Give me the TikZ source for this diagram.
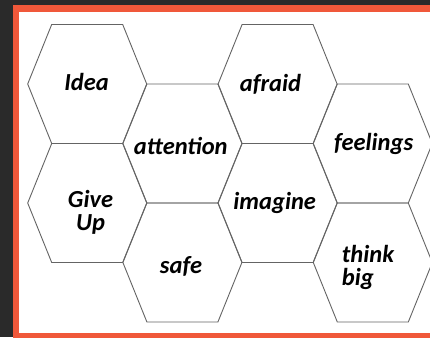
\documentclass[tikz,border=0pt]{standalone}
\usepackage{fontspec}
\setmainfont{Carlito}
\usepackage{xcolor}
\definecolor{slate}{RGB}{42,42,42}
\definecolor{frameorange}{RGB}{240,88,58}
\definecolor{hexgray}{RGB}{100,100,100}
\tikzset{hexcell/.style={draw=hexgray, line width=0.9pt, line join=miter},
wordnode/.style={font=\fontsize{24.5}{23.5}\selectfont\bfseries\itshape, inner sep=0pt}}

\begin{document}
\begin{tikzpicture}[x=1pt, y=-1pt]
        \useasboundingbox (0, 0) rectangle (430, 337);
        \clip (0, 0) rectangle (430, 337);
        % Frame
        \fill[slate] (0, 0) rectangle (430, 337);
        \fill[frameorange] (13, 5) rectangle (440, 345);
        \fill[white] (19, 12) rectangle (440, 333.3);
        % Hexagons
        \foreach \cx/\cy in {
            87.2/84, 87.2/203,
            182.4/143.5, 182.4/262.5,
            277.6/84, 277.6/203,
            372.8/143.5, 372.8/262.5} {
            \draw[hexcell] (\cx-59.5, \cy) -- (\cx-35.5, \cy-59.5) -- (\cx+35.5, \cy-59.5)
                -- (\cx+59.5, \cy) -- (\cx+35.5, \cy+59.5) -- (\cx-35.5, \cy+59.5) -- cycle;
        }
        % Words
        \node[wordnode, anchor=base] (idea) at (86.5, 90.7) {Idea};
        \node[wordnode, anchor=base] (attention) at (180.8, 154.3) {attention};
        \node[wordnode, anchor=base] (afraid) at (270.5, 91.7) {afraid};
        \node[wordnode, anchor=base] (feelings) at (373.7, 150.7) {feelings};
        \node[wordnode, anchor=base, align=center] (giveup) at (90.5, 230.5) {Give\\Up};
        \node[wordnode, anchor=base] (safe) at (181, 273) {safe};
        \node[wordnode, anchor=base] (imagine) at (274.7, 209.7) {imagine};
        \node[wordnode, anchor=base west, align=left] (thinkbig) at (341.7, 285.7) {think\\big};
    \end{tikzpicture}
\end{document}
